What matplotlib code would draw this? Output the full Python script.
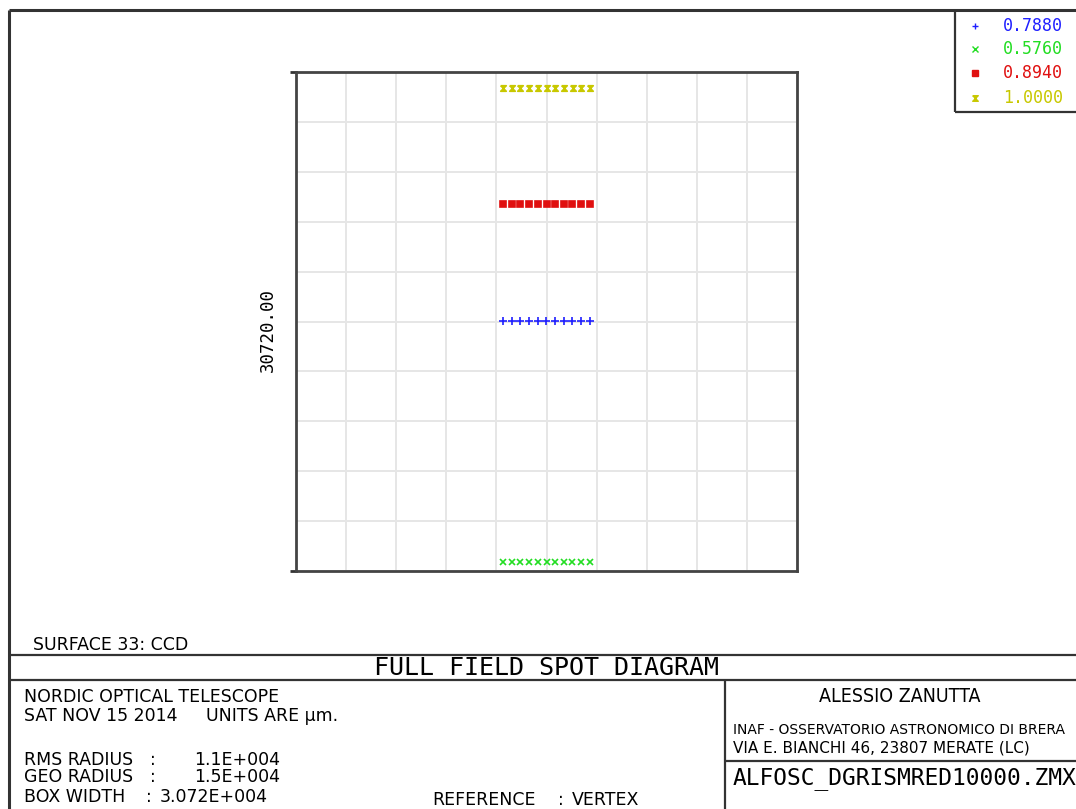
import numpy as np
import matplotlib
matplotlib.use("Agg")
import matplotlib.pyplot as plt

# spot positions in micrometres (relative to the box centre)
x_blue = [-2640, -2120, -1600, -1070, -540, -10, 520, 1050, 1580, 2110, 2640]
y_blue = [30] * 11
x_green = [-2660, -2130, -1600, -1070, -540, 0, 530, 1060, 1590, 2120, 2660]
y_green = [-14800] * 11
x_red = [-2660, -2130, -1600, -1070, -540, 0, 530, 1060, 1590, 2120, 2660]
y_red = [7260] * 11
x_yellow = [-2670, -2140, -1600, -1070, -540, 0, 530, 1070, 1600, 2130, 2670]
y_yellow = [14380] * 11

wavelengths = ["0.7880", "0.5760", "0.8940", "1.0000"]
colors = ["#1f1fff", "#22dd22", "#e01010", "#c8c800"]
box_width = 30720.0
rms_radius = "1.1E+004"
geo_radius = "1.5E+004"
box_width_txt = "3.072E+004"

hourglass = [(-1, 1), (1, 1), (-1, -1), (1, -1), (-1, 1)]
markers = ["+", "x", "s", hourglass]
msizes = [6, 5, 4, 4]

W, H = 1076, 809
fig = plt.figure(figsize=(W / 100, H / 100), dpi=100)

# overlay in pixel coords for the frame / title block
ov = fig.add_axes([0, 0, 1, 1])
ov.set_xlim(0, W)
ov.set_ylim(H, 0)
ov.axis("off")

lc = "#333333"
def hline(y, x0, x1, lw=1.6):
    ov.plot([x0, x1], [y, y], color=lc, lw=lw, solid_capstyle="butt")

def vline(x, y0, y1, lw=1.6):
    ov.plot([x, x], [y0, y1], color=lc, lw=lw, solid_capstyle="butt")

hline(10, 9, W, 2.2)
vline(9, 10, H, 2.2)
hline(655, 9, W)
hline(680, 9, W)
vline(725, 680, H)
hline(761, 725, W)
# legend box
vline(955, 10, 112)
hline(112, 955, W)
# small overhangs of plot box
hline(72, 290, 297, 2)
hline(571, 290, 297, 2)

fam = ["DejaVu Sans"]
mono = ["DejaVu Sans Mono"]

def txt(x, y, s, size=12.5, **kw):
    ov.text(x, y, s, fontsize=size, family=fam, va="center", **kw)

txt(33, 645, "SURFACE 33: CCD")
ov.text(547, 668, "FULL FIELD SPOT DIAGRAM", fontsize=18, family=mono, ha="center", va="center")

txt(24, 697, "NORDIC OPTICAL TELESCOPE")
txt(24, 716, "SAT NOV 15 2014")
txt(206, 716, "UNITS ARE \u00b5m.")
txt(24, 760, "RMS RADIUS")
txt(150, 760, ":")
txt(194, 760, rms_radius)
txt(24, 777, "GEO RADIUS")
txt(150, 777, ":")
txt(194, 777, geo_radius)
txt(24, 797, "BOX WIDTH")
txt(146, 797, ":")
txt(160, 797, box_width_txt)
txt(432, 800, "REFERENCE")
txt(558, 800, ":")
txt(572, 800, "VERTEX")

txt(900, 697, "ALESSIO ZANUTTA", size=14, ha="center", stretch="condensed")
txt(733, 730, "INAF - OSSERVATORIO ASTRONOMICO DI BRERA", size=10)
txt(733, 748, "VIA E. BIANCHI 46, 23807 MERATE (LC)", size=11)
ov.text(733, 779, "ALFOSC_DGRISMRED10000.ZMX", fontsize=16.5, family=mono, va="center")

# legend entries
leg_y = [26, 49, 73, 98]
for i, (wl, c) in enumerate(zip(wavelengths, colors)):
    ov.plot([975], [leg_y[i]], marker=markers[i], color=c, ms=4,
            mew=1.0, linestyle="none")
    ov.text(1003, leg_y[i], wl, fontsize=12, family=mono, color=c, va="center")

ov.text(268, 330, "%.2f" % box_width, fontsize=12.5, family=mono, rotation=90,
        ha="center", va="center")

# spot diagram box
ax = fig.add_axes([296 / W, 1 - 571 / H, 501 / W, 499 / H])
half = box_width / 2
ax.set_xlim(-half, half)
ax.set_ylim(-half, half)
ticks = np.linspace(-half, half, 11)
ax.set_xticks(ticks)
ax.set_yticks(ticks)
ax.tick_params(length=0, labelbottom=False, labelleft=False)
ax.grid(True, color="#e6e6e6", lw=1.4)
for s in ax.spines.values():
    s.set_color("#444444")
    s.set_linewidth(2)

series = [(x_blue, y_blue), (x_green, y_green), (x_red, y_red), (x_yellow, y_yellow)]
for (xs, ys), c, m, ms in zip(series, colors, markers, msizes):
    ax.plot(xs, ys, linestyle="none", marker=m, color=c, ms=ms, mew=1.2, mfc=c)

fig.savefig("out.png", dpi=100)
